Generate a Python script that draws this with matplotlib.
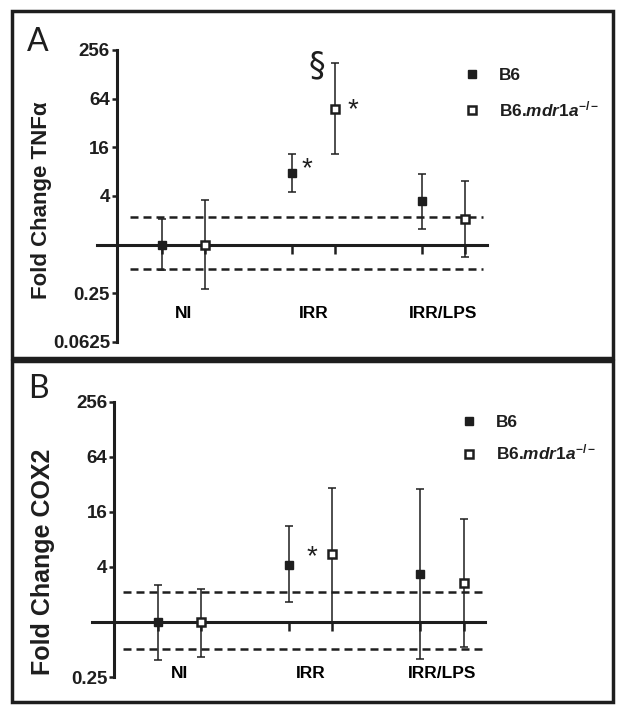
import matplotlib
matplotlib.use("Agg")
import matplotlib.pyplot as plt
from matplotlib.patches import Rectangle
import numpy as np

plt.rcParams['font.family'] = ['Liberation Sans', 'DejaVu Sans']
plt.rcParams['mathtext.fontset'] = 'custom'
plt.rcParams['mathtext.rm'] = 'Liberation Sans:bold'
plt.rcParams['mathtext.it'] = 'Liberation Sans:italic:bold'
plt.rcParams['mathtext.bf'] = 'Liberation Sans:bold'

# ---------------- data ----------------
categories = ["NI", "IRR", "IRR/LPS"]
series_names = ["B6", r"B6.$\mathit{mdr1a}^{-/-}$"]

# Panel A: TNFalpha fold change (mean, lower, upper)
tnf_b6 = [1.0, 7.7, 3.45]
tnf_b6_lo = [0.49, 4.46, 1.57]
tnf_b6_hi = [2.08, 13.3, 7.5]
tnf_mdr = [1.0, 48.0, 2.08]
tnf_mdr_lo = [0.28, 13.3, 0.70]
tnf_mdr_hi = [3.6, 177.0, 6.2]
tnf_thresholds = [2.2, 0.5]

# Panel B: COX2 fold change
cox_b6 = [1.0, 4.15, 3.3]
cox_b6_lo = [0.38, 1.64, 0.39]
cox_b6_hi = [2.56, 11.1, 28.3]
cox_mdr = [1.0, 5.5, 2.64]
cox_mdr_lo = [0.41, 1.0, 0.53]
cox_mdr_hi = [2.29, 28.9, 13.2]
cox_thresholds = [2.1, 0.5]

tnf_yticks = [0.0625, 0.25, 1, 4, 16, 64, 256]
tnf_yticklabels = ["0.0625", "0.25", "", "4", "16", "64", "256"]
cox_yticks = [0.25, 1, 4, 16, 64, 256]
cox_yticklabels = ["0.25", "", "4", "16", "64", "256"]

# annotations: (text, x, y)
tnf_annot = [("*", 0.948, 6.94), ("*", 1.304, 37.3), ("§", 1.025, 123.0)]
cox_annot = [("*", 1.011, 4.29)]

# ---------------- figure ----------------
W, H = 624, 713
fig = plt.figure(figsize=(W / 100, H / 100), dpi=100)

def px_axes(left, right, top, bottom):
    return fig.add_axes([left / W, 1 - bottom / H, (right - left) / W, (bottom - top) / H])

offset = 0.165
xc = np.arange(len(categories))
INK = '#1e1e1e'

def draw_panel(ax, xlim, ylim, b6, b6lo, b6hi, mdr, mdrlo, mdrhi, thr, yt, ytl,
               ylabel, letter, annots, line_bounds, dash_bounds, lab_pad, leg_anchor,
               ylab_pos, ylab_size, letter_pos, leg_spacing):
    ax.set_yscale('log', base=2)
    ax.set_xlim(*xlim)
    ax.set_ylim(*ylim)
    for s in ['top', 'right']:
        ax.spines[s].set_visible(False)
    ax.spines['left'].set_linewidth(2.2)
    ax.spines['left'].set_color(INK)
    ax.spines['bottom'].set_position(('data', 1))
    ax.spines['bottom'].set_bounds(*line_bounds)
    ax.spines['bottom'].set_linewidth(2.2)
    ax.spines['bottom'].set_color(INK)

    ax.set_yticks(yt)
    ax.set_yticklabels(ytl, fontsize=13.5, fontweight='bold')
    ax.yaxis.set_minor_locator(matplotlib.ticker.NullLocator())
    ax.tick_params(axis='y', which='major', length=3.6, width=1.8, pad=1.5, colors=INK)

    pos = np.concatenate([xc - offset, xc + offset])
    ax.set_xticks(sorted(pos))
    ax.set_xticklabels([''] * len(pos))
    ax.set_xticks(xc, categories, minor=True)
    ax.tick_params(axis='x', which='major', length=6.5, width=1.8, direction='out', colors=INK)
    ax.tick_params(axis='x', which='minor', length=0, pad=lab_pad, labelsize=12.5)
    for t in ax.get_xticklabels(minor=True):
        t.set_fontweight('bold')

    for y in thr:
        ax.plot(dash_bounds, [y, y], color=INK, lw=1.8, dashes=(3.2, 2.0), clip_on=False, zorder=2)

    xb6 = xc - offset
    xm = xc + offset
    b6 = np.array(b6); mdr = np.array(mdr)
    ax.errorbar(xb6, b6, yerr=[b6 - np.array(b6lo), np.array(b6hi) - b6], fmt='none',
                ecolor=INK, elinewidth=1.1, capsize=3.2, capthick=1.1, zorder=3, clip_on=False)
    ax.errorbar(xm, mdr, yerr=[mdr - np.array(mdrlo), np.array(mdrhi) - mdr], fmt='none',
                ecolor=INK, elinewidth=1.1, capsize=3.2, capthick=1.1, zorder=3, clip_on=False)
    ax.plot(xb6, b6, ls='none', marker='s', ms=5.4, mfc=INK, mec=INK, mew=1,
            label=series_names[0], zorder=4, clip_on=False)
    ax.plot(xm, mdr, ls='none', marker='s', ms=5.2, mfc='white', mec=INK, mew=1.8,
            label=series_names[1], zorder=4, clip_on=False)

    for txt, x, y in annots:
        fs = 24 if txt == '§' else 20
        ax.text(x, y, txt, ha='center', va='baseline', fontsize=fs, color=INK,
                family=['DejaVu Sans'] if txt == '§' else None)

    leg = ax.legend(loc='upper left', bbox_to_anchor=(leg_anchor[0] / W, 1 - leg_anchor[1] / H),
                    bbox_transform=fig.transFigure, frameon=False, handlelength=1.0,
                    handletextpad=1.1, borderpad=0, borderaxespad=0, labelspacing=leg_spacing,
                    prop={'weight': 'bold', 'size': 12.4})
    for t in leg.get_texts():
        t.set_color(INK)

    fig.text(ylab_pos[0] / W, 1 - ylab_pos[1] / H, ylabel, rotation=90, ha='center', va='center',
             fontsize=ylab_size, fontweight='bold', color=INK)
    fig.text(letter_pos[0] / W, 1 - letter_pos[1] / H, letter, ha='center', va='center',
             fontsize=23, family=['Lato', 'DejaVu Sans'], fontweight='normal', color=INK)

# Panel A axes
axA = px_axes(117, 502, 50, 342)
draw_panel(axA, (-0.512, 2.45), (0.0625, 256), tnf_b6, tnf_b6_lo, tnf_b6_hi,
           tnf_mdr, tnf_mdr_lo, tnf_mdr_hi, tnf_thresholds, tnf_yticks, tnf_yticklabels,
           "Fold Change TNF\u03b1", "A", tnf_annot, (-0.665, 2.335), (-0.412, 2.30), 44,
           (463, 68), (42, 200), 16, (38, 42), 0.95)

# Panel B axes
axB = px_axes(114.5, 501, 401.5, 677)
draw_panel(axB, (-0.493, 2.45), (0.25, 256), cox_b6, cox_b6_lo, cox_b6_hi,
           cox_mdr, cox_mdr_lo, cox_mdr_hi, cox_thresholds, cox_yticks, cox_yticklabels,
           "Fold Change COX2", "B", cox_annot, (-0.664, 2.33), (-0.428, 2.306), 31.5,
           (460, 415), (43, 562), 18, (38, 389), 0.75)

# Panel frames
for (x0, y0, x1, y1) in [(11.5, 11.5, 612.5, 357.5), (11.5, 360.5, 612.5, 702)]:
    fig.patches.append(Rectangle((x0 / W, 1 - y1 / H), (x1 - x0) / W, (y1 - y0) / H,
                                 transform=fig.transFigure, fill=False, lw=2.5,
                                 edgecolor=INK, zorder=10))

fig.savefig("out.png", dpi=100, facecolor='white')
